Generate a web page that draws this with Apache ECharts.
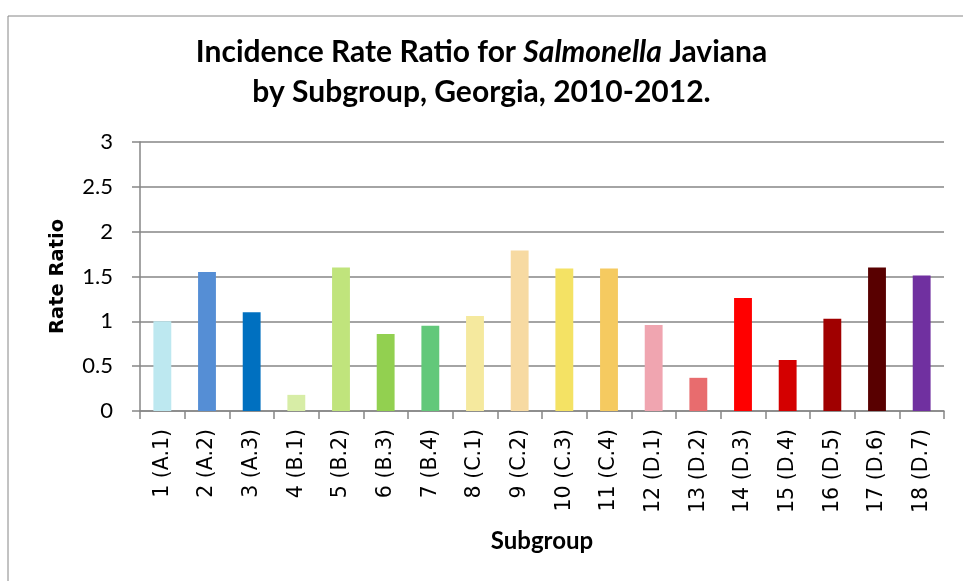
<!DOCTYPE html>
<html>
<head>
<meta charset="utf-8">
<script src="https://cdn.jsdelivr.net/npm/echarts@6/dist/echarts.min.js"></script>
<style>
  html, body { margin: 0; padding: 0; background: #fff; }
  #chart { width: 963px; height: 581px; }
</style>
</head>
<body>
<div id="chart"></div>
<script>
// Subgroup categories and their incidence rate ratios
const categories = ['1 (A.1)', '2 (A.2)', '3 (A.3)', '4 (B.1)', '5 (B.2)', '6 (B.3)', '7 (B.4)',
  '8 (C.1)', '9 (C.2)', '10 (C.3)', '11 (C.4)', '12 (D.1)', '13 (D.2)', '14 (D.3)',
  '15 (D.4)', '16 (D.5)', '17 (D.6)', '18 (D.7)'];
const rateRatios = [1.0, 1.55, 1.1, 0.18, 1.6, 0.86, 0.95, 1.06, 1.79, 1.59, 1.59, 0.96, 0.37, 1.26, 0.57, 1.03, 1.6, 1.51];
const barColors = ['#BDE8F0', '#558ED5', '#0070C0', '#D7EDA6', '#C0E47C', '#92D050', '#62C87A',
  '#F5E99E', '#F7DAA2', '#F4E264', '#F5CA60', '#F0A5B0', '#E86C6E', '#FF0000', '#D40000',
  '#A00000', '#580000', '#7030A0'];
const yTicks = { min: 0, max: 3, interval: 0.5 };

// Horizontal text uses a compact face, rotated text a wider one
const flatFont = 'Lato, "Open Sans", sans-serif';
const turnedFont = '"DejaVu Sans", "Liberation Sans", sans-serif';
const chart = echarts.init(document.getElementById('chart'), null, { renderer: 'canvas' });

chart.setOption({
  backgroundColor: '#ffffff',
  animation: false,
  graphic: [{
    type: 'rect',
    shape: { x: 8, y: 16, width: 1000, height: 600 },
    style: { fill: 'none', stroke: '#868686', lineWidth: 1 },
    z: -1
  }],
  title: {
    text: '{n|Incidence Rate Ratio for }{i|Salmonella}{n| Javiana}\n{n|by Subgroup, Georgia, 2010-2012.}',
    left: 'center',
    top: 27,
    textStyle: {
      rich: {
        n: { fontFamily: flatFont, fontWeight: 'bold', fontSize: 30, color: '#000', lineHeight: 40 },
        i: { fontFamily: flatFont, fontWeight: 'bold', fontStyle: 'italic', fontSize: 30, color: '#000', lineHeight: 40 }
      }
    }
  },
  grid: { left: 140, right: 19, top: 142, bottom: 170, containLabel: false },
  xAxis: {
    type: 'category',
    data: categories,
    name: 'Subgroup',
    nameLocation: 'middle',
    nameGap: 118,
    nameTextStyle: { fontFamily: flatFont, fontWeight: 'bold', fontSize: 24, color: '#000' },
    axisLine: { lineStyle: { color: '#868686', width: 1.5 } },
    axisTick: { show: true, length: 8, lineStyle: { color: '#868686', width: 1.5 } },
    axisLabel: { rotate: 90, fontFamily: turnedFont, fontSize: 20.5, color: '#000', margin: 18, interval: 0 }
  },
  yAxis: {
    type: 'value',
    min: yTicks.min,
    max: yTicks.max,
    interval: yTicks.interval,
    name: 'Rate Ratio',
    nameLocation: 'middle',
    nameGap: 72,
    nameTextStyle: { fontFamily: turnedFont, fontWeight: 'bold', fontSize: 19.5, color: '#000' },
    axisLine: { show: true, lineStyle: { color: '#868686', width: 1.5 } },
    axisTick: { show: true, length: 8, lineStyle: { color: '#868686', width: 1.5 } },
    axisLabel: { fontFamily: flatFont, fontSize: 22, color: '#000', margin: 27 },
    splitLine: { show: true, lineStyle: { color: '#868686', width: 1.5 } }
  },
  series: [{
    type: 'bar',
    data: rateRatios.map((v, i) => ({ value: v, itemStyle: { color: barColors[i] } })),
    barWidth: '40%'
  }]
});
</script>
</body>
</html>
